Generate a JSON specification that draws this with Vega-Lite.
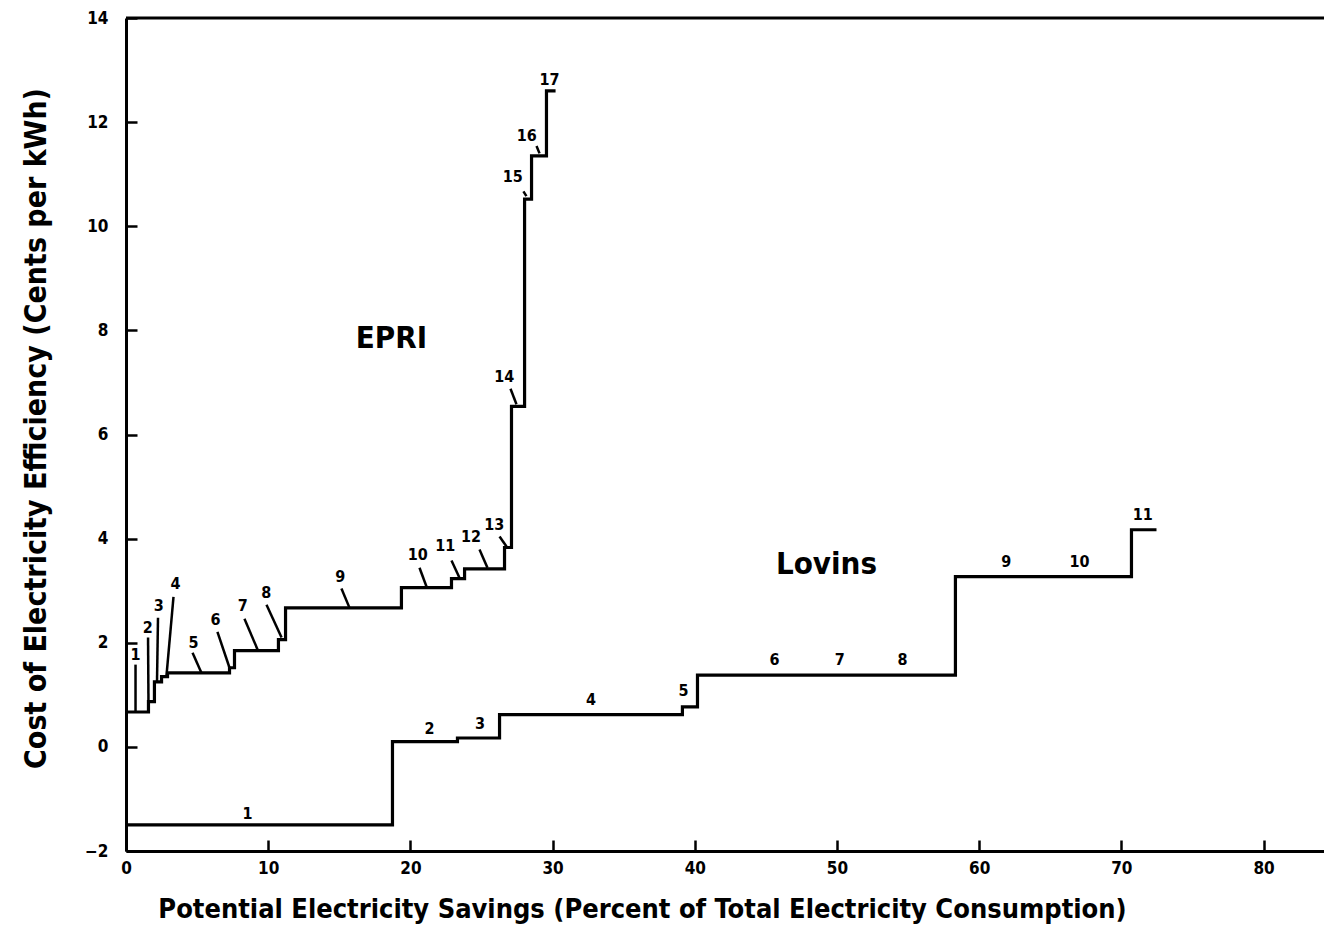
{
  "$schema": "https://vega.github.io/schema/vega-lite/v6.json",
  "width": 1198,
  "height": 833,
  "autosize": {"type": "none"},
  "padding": {"left": 126, "top": 18, "right": 0, "bottom": 74},
  "background": "white",
  "config": {
    "view": {"stroke": null},
    "font": "Liberation Sans Narrow, DejaVu Sans Condensed, Roboto, sans-serif",
    "axis": {
      "grid": false,
      "domainColor": "black",
      "domainWidth": 3,
      "tickColor": "black",
      "tickWidth": 2.5,
      "tickSize": -11,
      "labelColor": "black",
      "labelFontSize": 17,
      "labelFontWeight": "bold",
      "labelFlush": false,
      "labelOverlap": false,
      "titleColor": "black",
      "titleFontWeight": "bold"
    }
  },
  "datasets": {
    "steps": [
      {"series": "EPRI", "x": 0, "y": 0.67},
      {"series": "EPRI", "x": 1.58, "y": 0.87},
      {"series": "EPRI", "x": 2.0, "y": 1.25},
      {"series": "EPRI", "x": 2.5, "y": 1.35},
      {"series": "EPRI", "x": 2.92, "y": 1.42},
      {"series": "EPRI", "x": 7.28, "y": 1.52},
      {"series": "EPRI", "x": 7.63, "y": 1.85},
      {"series": "EPRI", "x": 10.72, "y": 2.06},
      {"series": "EPRI", "x": 11.22, "y": 2.67},
      {"series": "EPRI", "x": 19.37, "y": 3.06},
      {"series": "EPRI", "x": 22.89, "y": 3.23},
      {"series": "EPRI", "x": 23.81, "y": 3.42},
      {"series": "EPRI", "x": 26.62, "y": 3.83},
      {"series": "EPRI", "x": 27.11, "y": 6.54},
      {"series": "EPRI", "x": 28.03, "y": 10.52},
      {"series": "EPRI", "x": 28.52, "y": 11.35},
      {"series": "EPRI", "x": 29.57, "y": 12.6},
      {"series": "EPRI", "x": 30.21, "y": 12.6},
      {"series": "Lovins", "x": 0, "y": -1.5},
      {"series": "Lovins", "x": 18.74, "y": 0.1},
      {"series": "Lovins", "x": 23.31, "y": 0.17},
      {"series": "Lovins", "x": 26.27, "y": 0.62},
      {"series": "Lovins", "x": 39.13, "y": 0.77},
      {"series": "Lovins", "x": 40.19, "y": 1.38},
      {"series": "Lovins", "x": 58.33, "y": 3.27},
      {"series": "Lovins", "x": 70.71, "y": 4.17},
      {"series": "Lovins", "x": 72.47, "y": 4.17}
    ],
    "frame": [
      {"top": 14}
    ],
    "leaders": [
      {"n": 1, "x": 0.67, "y": 1.58, "x2": 0.67, "y2": 0.67},
      {"n": 2, "x": 1.55, "y": 2.1, "x2": 1.58, "y2": 0.87},
      {"n": 3, "x": 2.25, "y": 2.48, "x2": 2.18, "y2": 1.25},
      {"n": 4, "x": 3.34, "y": 2.88, "x2": 2.85, "y2": 1.38},
      {"n": 5, "x": 4.68, "y": 1.81, "x2": 5.31, "y2": 1.42},
      {"n": 6, "x": 6.43, "y": 2.21, "x2": 7.28, "y2": 1.52},
      {"n": 7, "x": 8.33, "y": 2.46, "x2": 9.25, "y2": 1.87},
      {"n": 8, "x": 9.88, "y": 2.73, "x2": 10.94, "y2": 2.1},
      {"n": 9, "x": 15.15, "y": 3.04, "x2": 15.72, "y2": 2.67},
      {"n": 10, "x": 20.64, "y": 3.44, "x2": 21.13, "y2": 3.08},
      {"n": 11, "x": 22.89, "y": 3.58, "x2": 23.45, "y2": 3.25},
      {"n": 12, "x": 24.86, "y": 3.79, "x2": 25.42, "y2": 3.44},
      {"n": 13, "x": 26.27, "y": 4.04, "x2": 26.76, "y2": 3.85},
      {"n": 14, "x": 27.04, "y": 6.88, "x2": 27.46, "y2": 6.58},
      {"n": 15, "x": 27.95, "y": 10.67, "x2": 28.16, "y2": 10.58},
      {"n": 16, "x": 28.87, "y": 11.54, "x2": 29.08, "y2": 11.4}
    ],
    "labels": [
      {"series": "EPRI", "label": "1", "x": 0.67, "y": 1.77},
      {"series": "EPRI", "label": "2", "x": 1.53, "y": 2.28},
      {"series": "EPRI", "label": "3", "x": 2.31, "y": 2.7},
      {"series": "EPRI", "label": "4", "x": 3.48, "y": 3.12},
      {"series": "EPRI", "label": "5", "x": 4.75, "y": 2.0},
      {"series": "EPRI", "label": "6", "x": 6.29, "y": 2.43},
      {"series": "EPRI", "label": "7", "x": 8.21, "y": 2.7},
      {"series": "EPRI", "label": "8", "x": 9.86, "y": 2.96},
      {"series": "EPRI", "label": "9", "x": 15.06, "y": 3.27},
      {"series": "EPRI", "label": "10", "x": 20.52, "y": 3.69},
      {"series": "EPRI", "label": "11", "x": 22.45, "y": 3.85},
      {"series": "EPRI", "label": "12", "x": 24.27, "y": 4.03},
      {"series": "EPRI", "label": "13", "x": 25.9, "y": 4.27},
      {"series": "EPRI", "label": "14", "x": 26.6, "y": 7.11},
      {"series": "EPRI", "label": "15", "x": 27.2, "y": 10.94},
      {"series": "EPRI", "label": "16", "x": 28.19, "y": 11.73},
      {"series": "EPRI", "label": "17", "x": 29.78, "y": 12.81},
      {"series": "Lovins", "label": "1", "x": 8.55, "y": -1.28},
      {"series": "Lovins", "label": "2", "x": 21.35, "y": 0.35},
      {"series": "Lovins", "label": "3", "x": 24.9, "y": 0.44},
      {"series": "Lovins", "label": "4", "x": 32.7, "y": 0.9},
      {"series": "Lovins", "label": "5", "x": 39.2, "y": 1.07},
      {"series": "Lovins", "label": "6", "x": 45.6, "y": 1.66},
      {"series": "Lovins", "label": "7", "x": 50.2, "y": 1.67},
      {"series": "Lovins", "label": "8", "x": 54.6, "y": 1.67},
      {"series": "Lovins", "label": "9", "x": 61.9, "y": 3.56},
      {"series": "Lovins", "label": "10", "x": 67.05, "y": 3.56},
      {"series": "Lovins", "label": "11", "x": 71.5, "y": 4.46}
    ],
    "names": [
      {"name": "EPRI", "x": 18.67, "y": 7.83},
      {"name": "Lovins", "x": 49.26, "y": 3.5}
    ]
  },
  "layer": [
    {
      "data": {"name": "steps"},
      "mark": {"type": "line", "interpolate": "step-after", "color": "black", "strokeWidth": 3.2, "strokeJoin": "miter", "strokeCap": "butt"},
      "encoding": {
        "x": {
          "field": "x", "type": "quantitative",
          "scale": {"domain": [0, 84.25], "nice": false, "zero": false},
          "axis": {
            "values": [0, 10, 20, 30, 40, 50, 60, 70, 80],
            "labelPadding": 20,
            "title": "Potential Electricity Savings (Percent of Total Electricity Consumption)",
            "titleFontSize": 27,
            "titleX": 516, "titleY": 66, "titleAlign": "center", "titleBaseline": "alphabetic"
          }
        },
        "y": {
          "field": "y", "type": "quantitative",
          "scale": {"domain": [-2, 14], "nice": false, "zero": false},
          "axis": {
            "values": [-2, 0, 2, 4, 6, 8, 10, 12, 14],
            "labelPadding": 29,
            "title": "Cost of Electricity Efficiency (Cents per kWh)",
            "titleFontSize": 30,
            "titleX": -81, "titleY": 410, "titleAngle": -90, "titleAlign": "center", "titleBaseline": "alphabetic"
          }
        },
        "detail": {"field": "series"}
      }
    },
    {
      "data": {"name": "frame"},
      "mark": {"type": "rule", "color": "black", "strokeWidth": 3},
      "encoding": {"y": {"field": "top", "type": "quantitative"}}
    },
    {
      "data": {"name": "leaders"},
      "mark": {"type": "rule", "color": "black", "strokeWidth": 2.5},
      "encoding": {
        "x": {"field": "x", "type": "quantitative"},
        "y": {"field": "y", "type": "quantitative"},
        "x2": {"field": "x2"},
        "y2": {"field": "y2"}
      }
    },
    {
      "data": {"name": "labels"},
      "mark": {"type": "text", "color": "black", "fontSize": 16, "fontWeight": "bold", "align": "center", "baseline": "middle"},
      "encoding": {
        "x": {"field": "x", "type": "quantitative"},
        "y": {"field": "y", "type": "quantitative"},
        "text": {"field": "label"}
      }
    },
    {
      "data": {"name": "names"},
      "mark": {"type": "text", "color": "black", "fontSize": 31, "fontWeight": "bold", "align": "center", "baseline": "middle"},
      "encoding": {
        "x": {"field": "x", "type": "quantitative"},
        "y": {"field": "y", "type": "quantitative"},
        "text": {"field": "name"}
      }
    }
  ]
}
